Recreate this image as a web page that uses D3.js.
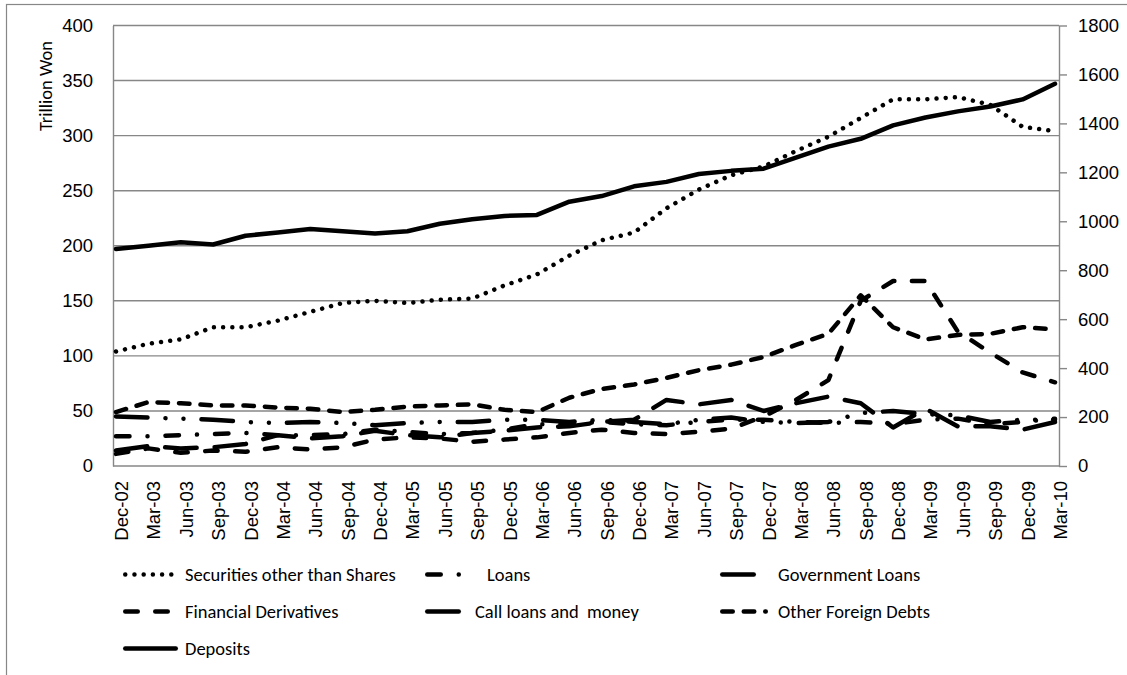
<!DOCTYPE html>
<html><head><meta charset="utf-8">
<script src="https://cdn.jsdelivr.net/npm/d3@7"></script>
<style>
html,body{margin:0;padding:0;background:#fff;}
svg{display:block;font-family:Carlito,Calibri,Lato,sans-serif;}
</style></head><body>
<svg id="chart" width="1127" height="675"></svg>
<script>
const categories = ["Dec-02","Mar-03","Jun-03","Sep-03","Dec-03","Mar-04","Jun-04","Sep-04","Dec-04","Mar-05","Jun-05","Sep-05","Dec-05","Mar-06","Jun-06","Sep-06","Dec-06","Mar-07","Jun-07","Sep-07","Dec-07","Mar-08","Jun-08","Sep-08","Dec-08","Mar-09","Jun-09","Sep-09","Dec-09","Mar-10"];
const securities = [104,111,115,126,126,132,140,148,150,148,151,152,164,174,191,205,212,234,251,264,272,286,299,316,333,333,335,328,308,304];
const loans = [27,27,28,29,30,28,28,29,33,31,29,30,33,38,38,40,38,37,40,42,42,40,39,40,38,42,43,38,40,43];
const governmentLoans = [14,18,16,17,20,28,25,27,32,28,26,30,32,35,36,40,42,60,56,60,50,57,63,57,35,52,36,36,33,40];
const financialDerivatives = [11,16,12,14,13,17,15,17,24,26,25,22,24,26,30,33,30,29,31,34,45,60,78,150,168,168,122,103,85,76];
const callLoans = [45,44,43,42,40,39,40,39,37,39,40,40,42,42,40,42,40,38,42,44,40,39,40,48,50,47,46,40,42,42];
const otherForeignDebts = [49,58,57,55,55,53,52,49,51,54,55,56,51,49,62,70,74,80,87,92,99,110,120,155,126,115,119,120,126,124];
const deposits = [887,900,914,905,941,954,968,959,950,959,990,1008,1022,1026,1080,1103,1143,1161,1193,1206,1215,1260,1305,1337,1392,1424,1449,1469,1498,1562];
const leftTicks = [0,50,100,150,200,250,300,350,400];
const rightTicks = [0,200,400,600,800,1000,1200,1400,1600,1800];
const leftTitle = "Trillion Won";

const W = 4.5;
const FS = 18.5;
const series = [
  {name:"Securities other than Shares", values:securities, axis:"L", dash:[0.01,9.2]},
  {name:"Loans", values:loans, axis:"L", dash:[13.5,18,0.01,18]},
  {name:"Government Loans", values:governmentLoans, axis:"L", dash:[31.5,18]},
  {name:"Financial Derivatives", values:financialDerivatives, axis:"L", dash:[12.5,17.5]},
  {name:"Call loans and  money", values:callLoans, axis:"L", dash:[31.5,18,0.01,18,0.01,18]},
  {name:"Other Foreign Debts", values:otherForeignDebts, axis:"L", dash:[10.5,11]},
  {name:"Deposits", values:deposits, axis:"R", dash:null}
];

const svg = d3.select("#chart");
const X0 = 113, X1 = 1059, YT = 25.5, YB = 466;
const x = d3.scalePoint().domain(categories).range([116, 1055]);
const yL = d3.scaleLinear().domain([0,400]).range([YB, YT]);
const yR = d3.scaleLinear().domain([0,1800]).range([YB, YT]);
const grey = "#878787";

// outer chart border
svg.append("rect").attr("x",6.5).attr("y",4.5).attr("width",1300).attr("height",900)
  .attr("fill","none").attr("stroke",grey).attr("stroke-width",1.2);

// gridlines
svg.append("g").selectAll("line").data(leftTicks.filter(d=>d>0)).join("line")
  .attr("x1",X0).attr("x2",X1).attr("y1",d=>yL(d)).attr("y2",d=>yL(d))
  .attr("stroke",grey).attr("stroke-width",1.4);

// left axis
const gL = svg.append("g").attr("transform",`translate(${X0},0)`)
  .call(d3.axisLeft(yL).tickValues(leftTicks).tickFormat(d3.format("d")).tickSize(0).tickSizeOuter(0).tickPadding(20));
gL.select(".domain").attr("stroke",grey).attr("stroke-width",1.4);
gL.selectAll("text").attr("font-size",FS).attr("fill","#000");

// right axis
const gR = svg.append("g").attr("transform",`translate(${X1},0)`)
  .call(d3.axisRight(yR).tickValues(rightTicks).tickFormat(d3.format("d")).tickSize(8).tickSizeOuter(0).tickPadding(11));
gR.select(".domain").attr("stroke",grey).attr("stroke-width",1.4);
gR.selectAll(".tick line").attr("stroke",grey).attr("stroke-width",1.4);
gR.selectAll("text").attr("font-size",FS).attr("fill","#000");

// bottom axis
const gB = svg.append("g").attr("transform",`translate(0,${YB})`)
  .call(d3.axisBottom(x).tickSize(0).tickSizeOuter(0));
gB.select(".domain").attr("d",`M${X0},0H${X1}`).attr("stroke",grey).attr("stroke-width",1.4);
gB.selectAll("text").attr("font-size",FS).attr("fill","#000")
  .attr("transform","rotate(-90)").attr("text-anchor","end")
  .attr("x",-15).attr("y",5).attr("dy","0.35em");

// axis title
svg.append("text").attr("transform","translate(46,86) rotate(-90)")
  .attr("text-anchor","middle").attr("dy","0.35em").attr("font-size",FS).text(leftTitle);

// lines
const lineGen = s => d3.line()
  .x((d,i)=>x(categories[i]))
  .y(d=> s.axis==="L" ? yL(d) : yR(d));
svg.append("g").selectAll("path").data(series).join("path")
  .attr("d", s=>lineGen(s)(s.values))
  .attr("fill","none").attr("stroke","#000").attr("stroke-width",W)
  .attr("stroke-linecap","round").attr("stroke-linejoin","round")
  .attr("stroke-dasharray", s=> s.dash ? s.dash.join(",") : null);

// legend
const legendPos = [
  {sx:123, sw:55, tx:185, by:581},
  {sx:425, sw:40, tx:487, by:581},
  {sx:720, sw:40, tx:778, by:581},
  {sx:123, sw:55, tx:185, by:618},
  {sx:425, sw:46, tx:475, by:618},
  {sx:720, sw:48, tx:778, by:618},
  {sx:123, sw:55, tx:185, by:655}
];
const lg = svg.append("g").selectAll("g").data(series).join("g");
lg.append("line")
  .attr("x1",(s,i)=>legendPos[i].sx+W/2).attr("x2",(s,i)=>legendPos[i].sx+legendPos[i].sw-W/2)
  .attr("y1",(s,i)=>legendPos[i].by-6.5).attr("y2",(s,i)=>legendPos[i].by-6.5)
  .attr("stroke","#000").attr("stroke-width",W).attr("stroke-linecap","round")
  .attr("stroke-dasharray", s=> s.dash ? s.dash.join(",") : null);
lg.append("text").attr("x",(s,i)=>legendPos[i].tx).attr("y",(s,i)=>legendPos[i].by)
  .attr("font-size",FS).attr("fill","#000").style("white-space","pre")
  .text(s=>s.name);
</script>
</body></html>
